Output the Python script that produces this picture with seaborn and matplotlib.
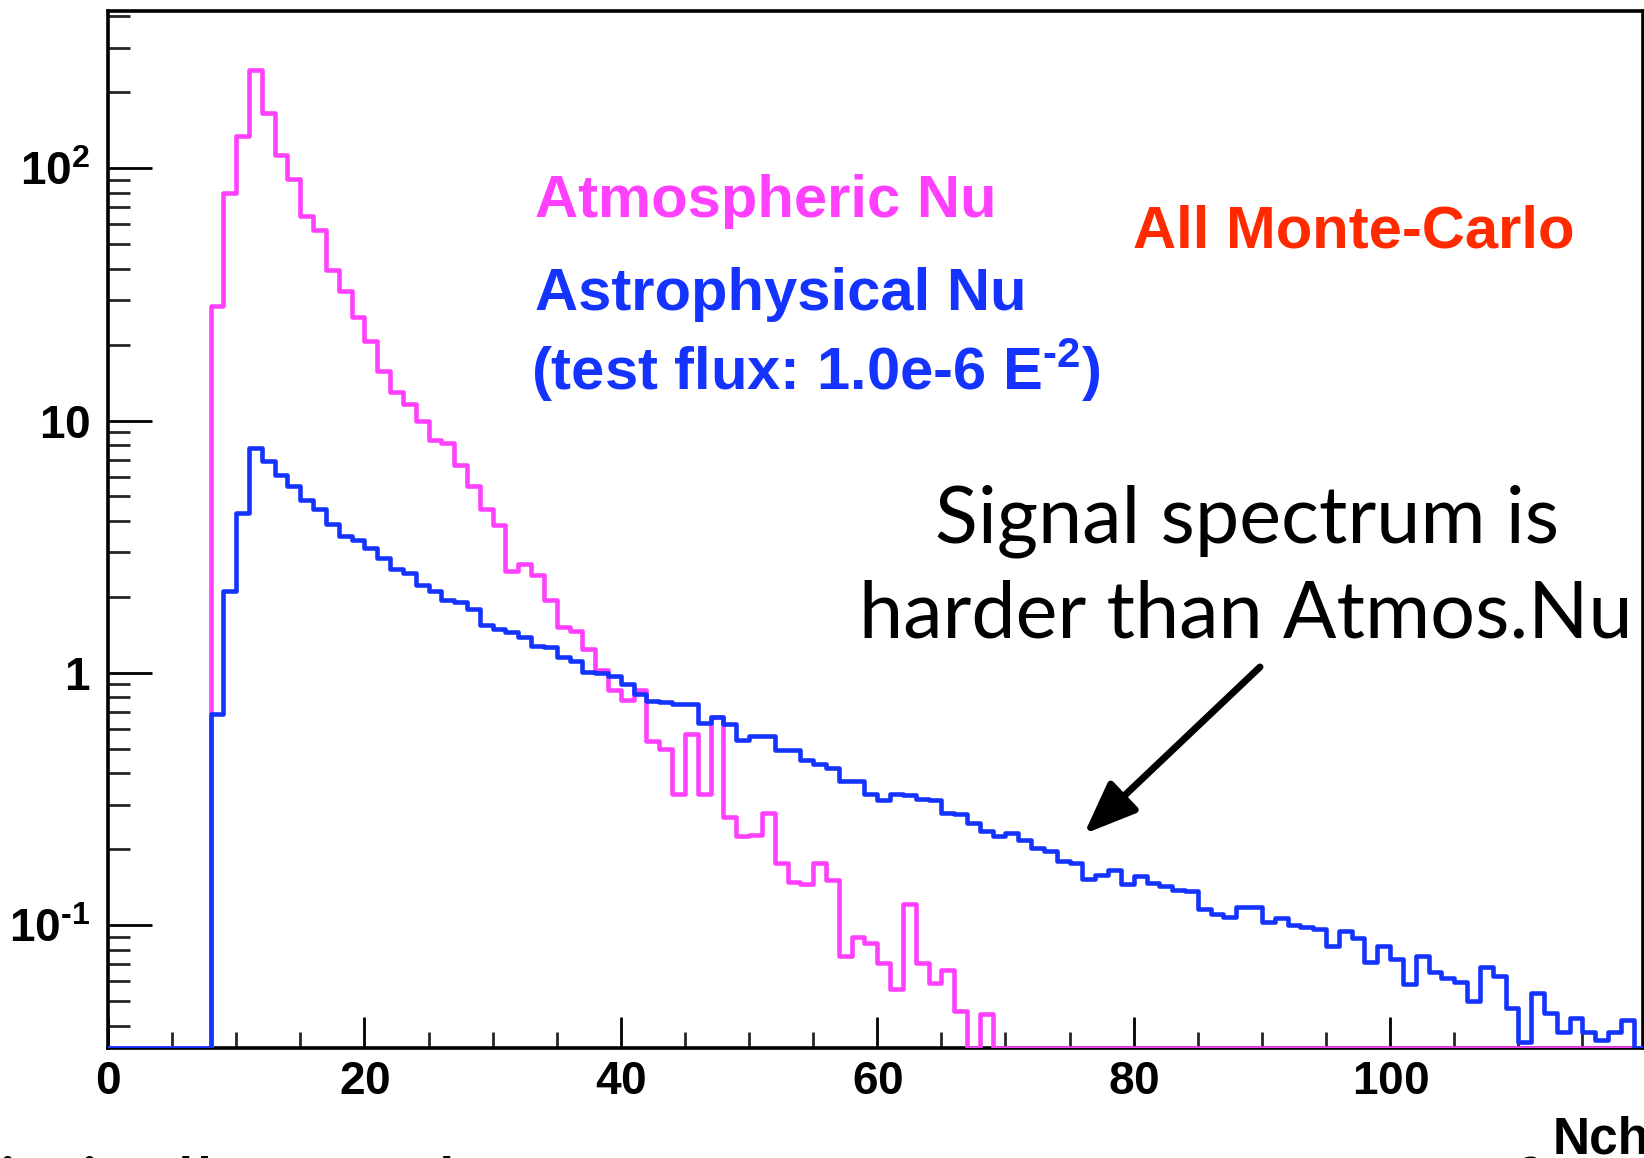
import numpy as np
import pandas as pd
import matplotlib
matplotlib.use('Agg')
import matplotlib.pyplot as plt
import seaborn as sns
from matplotlib.ticker import MultipleLocator, LogLocator, FuncFormatter, NullFormatter

# Nch histogram contents, one value per bin of width 1 starting at Nch = 0
nch_edges = np.arange(0, 121)

atmos_nu = [0, 0, 0, 0, 0, 0, 0, 0,
            28.5, 79.8, 134.5, 245, 165, 113, 90.6, 64.4, 56.9, 39.6,
            32.7, 25.8, 20.6, 15.7, 13.0, 11.6, 10.0, 8.38, 8.18, 6.64,
            5.48, 4.48, 3.87, 2.53, 2.71, 2.44, 1.94, 1.52, 1.46, 1.24,
            1.03, 0.857, 0.783, 0.853, 0.535, 0.498, 0.332, 0.574, 0.332, 0.668,
            0.268, 0.225, 0.227, 0.279, 0.177, 0.148, 0.146, 0.177, 0.151, 0.0756,
            0.0899, 0.0847, 0.0705, 0.0558, 0.121, 0.0705, 0.0588, 0.0664, 0.0458, 0,
            0.0444] + [0] * 51

astro_nu = [0, 0, 0, 0, 0, 0, 0, 0,
            0.69, 2.11, 4.29, 7.77, 6.90, 6.11, 5.48, 4.85, 4.46, 3.90,
            3.50, 3.37, 3.12, 2.86, 2.58, 2.49, 2.22, 2.12, 1.95, 1.91,
            1.79, 1.55, 1.49, 1.45, 1.39, 1.28, 1.27, 1.155, 1.11, 1.01,
            1.00, 0.97, 0.906, 0.827, 0.773, 0.766, 0.755, 0.75, 0.635, 0.668,
            0.629, 0.540, 0.561, 0.561, 0.493, 0.493, 0.453, 0.434, 0.421, 0.373,
            0.373, 0.332, 0.313, 0.332, 0.327, 0.317, 0.312, 0.279, 0.276, 0.253,
            0.236, 0.225, 0.232, 0.217, 0.203, 0.196, 0.180, 0.177, 0.153, 0.158,
            0.165, 0.145, 0.157, 0.147, 0.143, 0.138, 0.136, 0.116, 0.111, 0.108,
            0.118, 0.118, 0.103, 0.107, 0.1006, 0.0985, 0.097, 0.0828, 0.0949, 0.0893,
            0.0716, 0.0828, 0.0733, 0.0584, 0.0754, 0.065, 0.0619, 0.0593, 0.0501, 0.068,
            0.0628, 0.047, 0.0343, 0.0539, 0.0447, 0.0376, 0.043, 0.0376, 0.0351, 0.0378,
            0.042, 0]

PINK = '#FF40FF'
BLUE = '#1433FF'
RED = '#FF2A00'
W, H = 1644, 1158
y_lo, y_hi = 0.0326, 421

df = pd.DataFrame({'nch': nch_edges[:-1] + 0.5,
                   'atmos': atmos_nu,
                   'astro': astro_nu})
# empty bins are drawn on the bottom of the frame, as ROOT does
df['atmos_w'] = df['atmos'].clip(lower=y_lo)
df['astro_w'] = df['astro'].clip(lower=y_lo)

sns.set_style('ticks')
plt.rcParams['font.family'] = ['Liberation Sans', 'DejaVu Sans']
plt.rcParams['mathtext.fontset'] = 'custom'
plt.rcParams['mathtext.bf'] = 'Liberation Sans:bold'
plt.rcParams['mathtext.rm'] = 'Liberation Sans:bold'
plt.rcParams['mathtext.default'] = 'bf'

fig = plt.figure(figsize=(W / 100, H / 100), dpi=100)
ax = fig.add_axes([108 / W, 1 - 1048 / H, (1642.7 - 108) / W, (1048 - 10.7) / H])

sns.histplot(data=df, x='nch', weights='atmos_w', binwidth=1, binrange=(0, 120),
             element='step', fill=False, color=PINK, linewidth=3.3, ax=ax, zorder=3)
sns.histplot(data=df, x='nch', weights='astro_w', binwidth=1, binrange=(0, 120),
             element='step', fill=False, color=BLUE, linewidth=3.3, ax=ax, zorder=4)

ax.set_yscale('log')
ax.set_ylim(y_lo, y_hi)
ax.set_xlim(0, 119.7)
ax.set_xlabel('')
ax.set_ylabel('')

for s in ax.spines.values():
    s.set_visible(True)
    s.set_linewidth(2.6)
    s.set_color('black')

ax.xaxis.set_major_locator(MultipleLocator(20))
ax.xaxis.set_minor_locator(MultipleLocator(5))
ax.xaxis.set_major_formatter(FuncFormatter(lambda v, p: f'${v:.0f}$'))
ax.yaxis.set_major_locator(LogLocator(base=10))
ax.yaxis.set_minor_locator(LogLocator(base=10, subs=np.arange(2, 10)))
ax.yaxis.set_minor_formatter(NullFormatter())


def ylab(v, pos):
    e = int(round(np.log10(v)))
    if e in (0, 1):
        return f'${10 ** e}$'
    if e < 0:
        return r'$10^{\text{-}' + str(-e) + '}$'
    return f'$10^{{{e}}}$'


ax.yaxis.set_major_formatter(FuncFormatter(ylab))

ax.tick_params(axis='x', which='major', direction='in', length=22, width=2,
               labelsize=33, pad=9, top=False, colors='black')
ax.tick_params(axis='x', which='minor', direction='in', length=11.5, width=2, top=False)
ax.tick_params(axis='y', which='major', direction='in', length=32, width=2,
               labelsize=33, pad=13, right=False, colors='black')
ax.tick_params(axis='y', which='minor', direction='in', length=16, width=2, right=False)

# labels on the plot
fig.text(535 / W, 1 - 217 / H, 'Atmospheric Nu', color=PINK, fontsize=43,
         fontweight='bold', ha='left', va='baseline')
fig.text(535 / W, 1 - 310 / H, 'Astrophysical Nu', color=BLUE, fontsize=43,
         fontweight='bold', ha='left', va='baseline')
fig.text(531 / W, 1 - 390 / H, r'(test flux: 1.0e-6 $E^{\text{-}2}$)', color=BLUE,
         fontsize=43, fontweight='bold', ha='left', va='baseline')
fig.text(1133 / W, 1 - 247 / H, 'All Monte-Carlo', color=RED, fontsize=43,
         fontweight='bold', ha='left', va='baseline')

fig.text(1247 / W, 1 - 542 / H, 'Signal spectrum is', family='Lato', fontsize=57,
         ha='center', va='baseline', color='black')
fig.text(1246 / W, 1 - 637 / H, 'harder than Atmos.Nu', family='Lato', fontsize=57,
         ha='center', va='baseline', color='black')
ax.annotate('', xy=(1084, H - 834), xytext=(1260, H - 667),
            xycoords='figure pixels', textcoords='figure pixels',
            arrowprops=dict(arrowstyle='-|>,head_length=0.8,head_width=0.32',
                            color='black', lw=5, mutation_scale=40,
                            shrinkA=0, shrinkB=0))

fig.text(1553 / W, 1 - 1116 / H, 'Nch', fontsize=37, fontweight='bold',
         ha='left', va='top', color='black')

# slide text running off the bottom of the picture
fig.text(-141 / W, 1 - 1213 / H, 'Statistically, any large excess to some amount of',
         family='Lato', fontsize=57, ha='left', va='baseline', color='black')

fig.savefig('out.png', dpi=100)
